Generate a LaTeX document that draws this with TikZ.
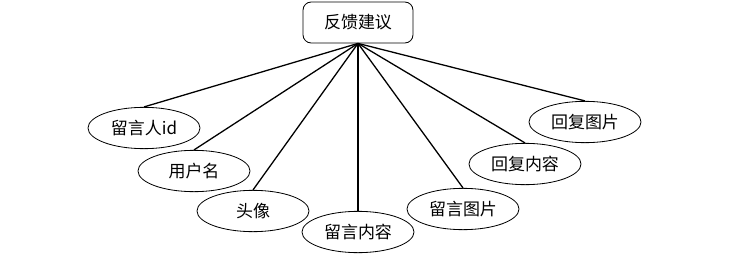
\documentclass[tikz,border=0pt]{standalone}
\usepackage{fontspec}
\usepackage{tikz}
\usetikzlibrary{shapes.geometric}
\newfontfamily\cjk{Noto Sans CJK SC}

\begin{document}
\begin{tikzpicture}[
    x=0.03cm, y=-0.03cm,
    every node/.style={font=\cjk\fontsize{14.5}{17}\selectfont, inner sep=0pt},
    entity/.style={draw, rounded corners=7pt, line width=0.7pt, minimum width=3.3cm, minimum height=1.23cm},
    attr/.style={draw, ellipse, line width=0.7pt, minimum width=3.36cm, minimum height=1.24cm},
    link/.style={line width=1.1pt}
]
\useasboundingbox (0,0) rectangle (733,255);
\node[entity] (fb) at (358,22.5) {反馈建议};

\node[attr] (uid) at (144,128) {留言人id};
\node[attr] (uname) at (194,171) {用户名};
\node[attr] (avatar) at (253,211) {头像};
\node[attr] (msg) at (358,232) {留言内容};
\node[attr] (msgimg) at (463,209) {留言图片};
\node[attr] (reply) at (525,164) {回复内容};
\node[attr] (replyimg) at (585,122) {回复图片};

\draw[link] (fb.south) -- (uid.north);
\draw[link] (fb.south) -- (uname.north);
\draw[link] (fb.south) -- (avatar.north);
\draw[link] (fb.south) -- (msg.north);
\draw[link] (fb.south) -- (msgimg.north);
\draw[link] (fb.south) -- (reply.north);
\draw[link] (fb.south) -- (replyimg.north);
\end{tikzpicture}
\end{document}
